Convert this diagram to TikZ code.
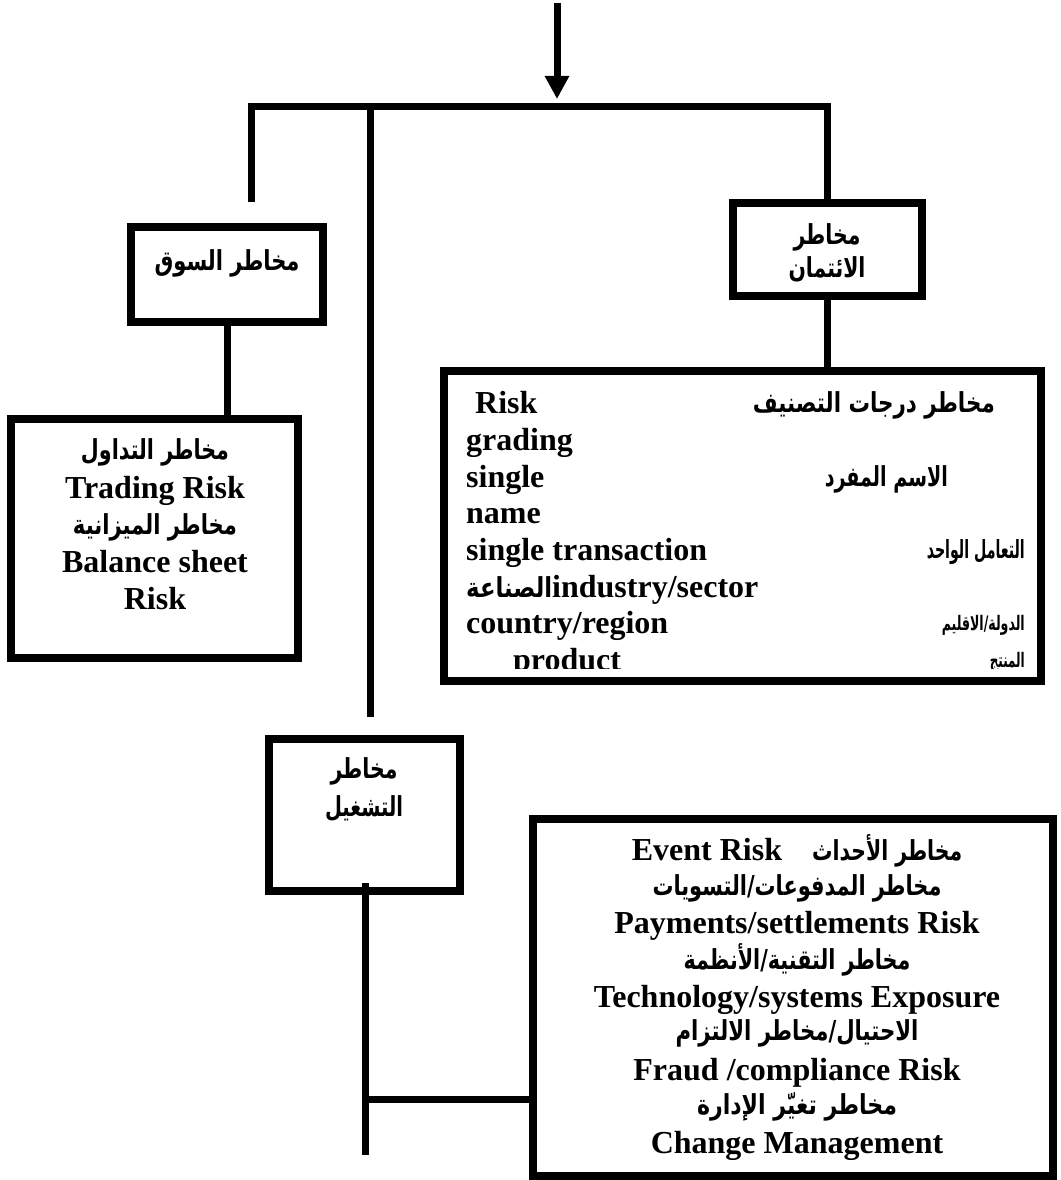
\documentclass[tikz,border=0pt]{standalone}
\usepackage{fontspec}
\usepackage{graphicx}
\setmainfont{Liberation Serif}
\newfontfamily\arabicfont[Script=Arabic]{DejaVu Sans}
\TeXXeTstate=1
\usetikzlibrary{arrows.meta}
\newcommand{\arfit}[2]{\resizebox{#1pt}{\height}{#2}}
\begin{document}
\begin{tikzpicture}[x=1pt,y=-1pt,
  box/.style={draw, line width=8pt, inner sep=0pt, outer sep=0pt},
  conn/.style={line width=7pt},
  en/.style={inner sep=0pt, font=\bfseries\fontsize{32}{36}\selectfont},
  ar/.style={inner sep=0pt, font=\arabicfont\bfseries\fontsize{27.5}{31}\selectfont},
  armid/.style={inner sep=0pt, font=\arabicfont\bfseries\fontsize{25}{29}\selectfont},
  arsmall/.style={inner sep=0pt, font=\arabicfont\bfseries\fontsize{20}{24}\selectfont}]
\useasboundingbox (0,0) rectangle (1060,1180);

% boxes
\node[box, minimum width=192pt, minimum height=95pt] (market) at (227,274.5) {};
\node[box, minimum width=189pt, minimum height=93pt] (credit) at (827,249.5) {};
\node[box, minimum width=191pt, minimum height=152pt] (ops) at (364.5,815) {};
\node[box, minimum width=287pt, minimum height=239pt] (marketdet) at (154.5,538.5) {};
\node[box, minimum width=597pt, minimum height=310pt] (creditdet) at (742.5,526) {};
\node[box, minimum width=519.5pt, minimum height=357pt] (opsdet) at (792.75,997.5) {};

% connectors
\coordinate (arrtop) at (557,3);
\coordinate (arrtip) at (557,99);
\draw[conn, -{Triangle[length=23pt,width=23pt]}] (arrtop) -- (arrtip);
\coordinate (leftend) at (251,202);
\coordinate (barright) at (827,106.5);
\draw[conn] (leftend) |- (barright) -- (credit.north);
\coordinate (midtop) at (370,106.5);
\coordinate (midend) at (370,717);
\draw[conn] (midtop) -- (midend);
\draw[conn] (market.south) -- (market.south |- marketdet.north);
\draw[conn] (credit.south) -- (credit.south |- creditdet.north);
\coordinate (opstart) at (365,883);
\coordinate (opend) at (365,1155);
\coordinate (opbranch) at (365,1099);
\draw[conn] (opstart) -- (opend);
\draw[conn] (opbranch) -- (opbranch -| opsdet.west);

% small boxes text
\node[ar] (tmarket) at (227,263) {\arfit{145}{\beginR مخاطر السوق\endR}};
\node[ar] (tcredit1) at (827,237) {\arfit{67}{\beginR مخاطر\endR}};
\node[ar] (tcredit2) at (827,269) {\arfit{77}{\beginR الائتمان\endR}};
\node[ar] (tops1) at (364,771) {\arfit{67}{\beginR مخاطر\endR}};
\node[ar] (tops2) at (364,809) {\arfit{78}{\beginR التشغيل\endR}};

% market details
\node[ar] (md1) at (155,452) {\arfit{148}{\beginR مخاطر التداول\endR}};
\node[en, anchor=base] (md2) at (155,498) {Trading Risk};
\node[ar] (md3) at (155,527) {\arfit{164}{\beginR مخاطر الميزانية\endR}};
\node[en, anchor=base] (md4) at (155,572) {Balance sheet};
\node[en, anchor=base] (md5) at (155,609) {Risk};

% credit details
\node[en, anchor=base west] (cd1) at (475,413) {Risk};
\node[en, anchor=base west] (cd2) at (466,450) {grading};
\node[en, anchor=base west] (cd3) at (466,487) {single};
\node[en, anchor=base west] (cd4) at (466,523) {name};
\node[en, anchor=base west] (cd5) at (466,560) {single transaction};
\node[en, anchor=base west] (cd6) at (466,597) {{\arabicfont\fontsize{27.5}{31}\selectfont\arfit{86}{\beginR الصناعة\endR}}industry/sector};
\node[en, anchor=base west] (cd7) at (466,633) {country/region};
\node[ar, anchor=east] (ca1) at (995,405) {\arfit{242}{\beginR مخاطر درجات التصنيف\endR}};
\node[ar, anchor=east] (ca2) at (948,479) {\arfit{123}{\beginR الاسم المفرد\endR}};
\node[armid, anchor=east] (ca3) at (1025,552) {\arfit{98}{\beginR التعامل الواحد\endR}};
\node[arsmall, anchor=east] (ca4) at (1025,625) {\arfit{83}{\beginR الدولة/الاقليم\endR}};
\begin{scope}
\clip (440,367) rectangle (1045,668);
\node[en, anchor=base west] (cd8) at (513,670) {product};
\node[arsmall, anchor=east] (ca5) at (1025,662) {\arfit{35}{\beginR المنتج\endR}};
\end{scope}

% operational details
\node[en, anchor=base] (od1) at (797,860) {Event Risk\hspace{30pt}{\arabicfont\fontsize{27.5}{31}\selectfont\arfit{150}{\beginR مخاطر الأحداث\endR}}};
\node[ar] (od2) at (797,888) {\arfit{289}{\beginR مخاطر المدفوعات/التسويات\endR}};
\node[en, anchor=base] (od3) at (797,933) {Payments/settlements Risk};
\node[ar] (od4) at (797,960) {\arfit{227}{\beginR مخاطر التقنية/الأنظمة\endR}};
\node[en, anchor=base] (od5) at (797,1007) {Technology/systems Exposure};
\node[ar] (od6) at (797,1033) {\arfit{243}{\beginR الاحتيال/مخاطر الالتزام\endR}};
\node[en, anchor=base] (od7) at (797,1080) {Fraud /compliance Risk};
\node[ar] (od8) at (797,1107) {\arfit{200}{\beginR مخاطر تغيّر الإدارة\endR}};
\node[en, anchor=base] (od9) at (797,1153) {Change Management};
\end{tikzpicture}
\end{document}
